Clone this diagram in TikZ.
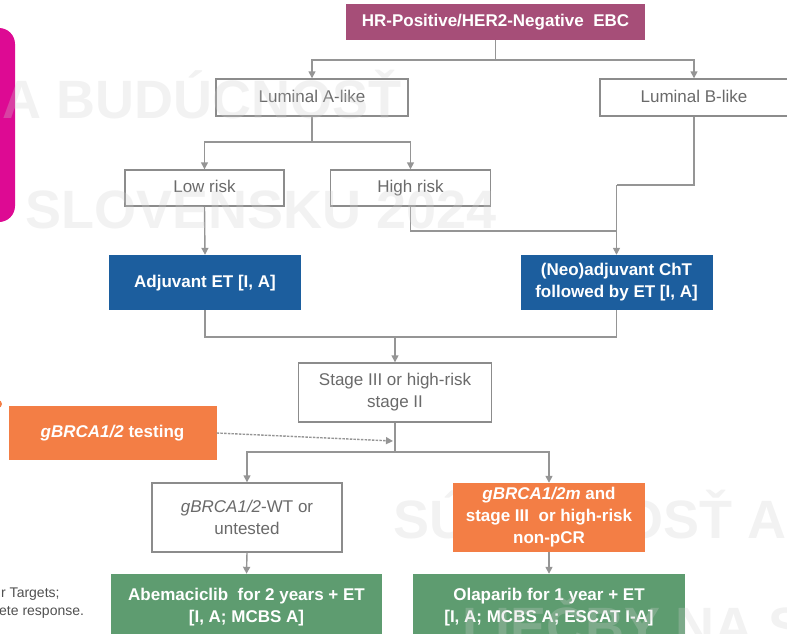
\documentclass[tikz,border=0pt]{standalone}
\usepackage{fontspec}
\setmainfont{Liberation Sans}
\usetikzlibrary{arrows.meta}

\definecolor{hrcol}{HTML}{A64E78}
\definecolor{bluecol}{HTML}{1C5E9E}
\definecolor{orangecol}{HTML}{F37E45}
\definecolor{greencol}{HTML}{5E9C70}
\definecolor{magentacol}{HTML}{DD0A93}
\definecolor{linecol}{HTML}{959595}
\definecolor{boxline}{HTML}{8C8C8C}
\definecolor{txtgray}{HTML}{6A6A6A}
\definecolor{notegray}{HTML}{505050}
\definecolor{wmark}{HTML}{D0D0D0}

\tikzset{
  box/.style={draw=boxline, line width=1.4pt, fill=white, text=txtgray,
    align=center, inner sep=0pt, font=\fontsize{17}{22}\selectfont},
  fillbox/.style={draw=none, text=white, align=center, inner sep=0pt,
    font=\fontsize{17}{22}\selectfont\bfseries},
  oneline/.style={text height=12.5pt, text depth=3.5pt},
  con/.style={draw=linecol, line width=1.4pt},
  arr/.style={con, -{Triangle[length=7pt,width=7pt]}},
  dasharr/.style={arr, dash pattern=on 2.5pt off 1.2pt},
  wmtext/.style={text=wmark, text opacity=0.28, inner sep=0pt,
    font=\fontsize{54}{54}\selectfont\bfseries},
  note/.style={text=notegray, inner sep=0pt, font=\fontsize{14}{16}\selectfont}
}

\begin{document}
\begin{tikzpicture}[x=1pt,y=-1pt]
\useasboundingbox (0,0) rectangle (787,633);

% lettering that sits behind the boxes
\node[wmtext, anchor=base west] (wm3) at (393,538) {SÚČASNOSŤ A};

% side decorations
\fill[magentacol, rounded corners=16pt] (-30,28) rectangle (15,222);
\fill[orangecol] (-2,404) circle (4);

% footnote fragments
\node[note, anchor=base west] (n1) at (1,597) {r Targets;};
\node[note, anchor=base west] (n2) at (-1,615) {ete response.};

% boxes
\node[fillbox, oneline, fill=hrcol, minimum width=299pt, minimum height=36pt] (hr) at (495.5,22) {HR-Positive/HER2-Negative\ \ EBC};
\node[box, oneline, minimum width=192pt, minimum height=37pt] (luma) at (312,97.5) {Luminal A-like};
\node[box, oneline, minimum width=188pt, minimum height=37pt] (lumb) at (694,97.5) {Luminal B-like};
\node[box, oneline, minimum width=159pt, minimum height=36pt] (low) at (204.5,188) {Low risk};
\node[box, oneline, minimum width=160pt, minimum height=36pt] (high) at (410.5,188) {High risk};
\node[fillbox, oneline, fill=bluecol, minimum width=192pt, minimum height=55pt] (adj) at (205,282.5) {Adjuvant ET [I, A]};
\node[fillbox, fill=bluecol, minimum width=192pt, minimum height=55pt] (neo) at (616.5,282.5) {(Neo)adjuvant ChT\\followed by ET [I, A]};
\node[box, minimum width=193pt, minimum height=59pt] (stage) at (395,392.5) {Stage III or high-risk\\stage II};
\node[fillbox, oneline, fill=orangecol, minimum width=208pt, minimum height=54pt] (test) at (112.5,433) {\itshape gBRCA1/2\upshape\ testing};
\node[box, minimum width=190pt, minimum height=69pt] (wt) at (247,517.5) {\itshape gBRCA1/2\upshape -WT or\\untested};
\node[fillbox, fill=orangecol, minimum width=192pt, minimum height=69pt] (mut) at (549,517.5) {\itshape gBRCA1/2m\upshape\ and\\stage III\ \ or high-risk\\non-pCR};
\node[fillbox, fill=greencol, minimum width=271pt, minimum height=66pt] (abe) at (246.5,607) {Abemaciclib\ \ for 2 years + ET\\{}[I, A; MCBS A]};
\node[fillbox, fill=greencol, minimum width=272pt, minimum height=66pt] (ola) at (549,607) {Olaparib for 1 year + ET\\{}[I, A; MCBS A; ESCAT I-A]};

% junction points
\coordinate (j1) at (495.5,60);
\coordinate (j2) at (312,142);
\coordinate (j3) at (616.5,185);
\coordinate (j4) at (616.5,231);
\coordinate (j5) at (395,337);
\coordinate (j6) at (395,452);
\coordinate (j7) at (393,441);

% connectors
\draw[con] (hr.south) -- (j1);
\draw[arr] (j1) -| (luma.north);
\draw[arr] (j1) -| (lumb.north);
\draw[con] (luma.south) -- (j2);
\draw[arr] (j2) -| (low.north);
\draw[arr] (j2) -| (high.north);
\draw[con] (lumb.south) |- (j3);
\draw[arr] (j3) -- (neo.north);
\draw[con] (high.south) |- (j4);
\draw[arr] (low.south) -- (adj.north);
\draw[con] (adj.south) |- (j5);
\draw[con] (neo.south) |- (j5);
\draw[arr] (j5) -- (stage.north);
\draw[con] (stage.south) -- (j6);
\draw[arr] (j6) -| (wt.north);
\draw[arr] (j6) -| (mut.north);
\draw[dasharr] (test.east) -- (j7);
\draw[arr] (wt.south) -- (abe.north);
\draw[arr] (mut.south) -- (ola.north);

% translucent lettering laid over the chart
\node[wmtext, anchor=base east] (wm1) at (402,118) {A BUDÚCNOSŤ};
\node[wmtext, anchor=base east] (wm2) at (497,228) {SLOVENSKU 2024};
\node[wmtext, anchor=base west] (wm4) at (462,645) {LIEČBY NA S};
\end{tikzpicture}
\end{document}
